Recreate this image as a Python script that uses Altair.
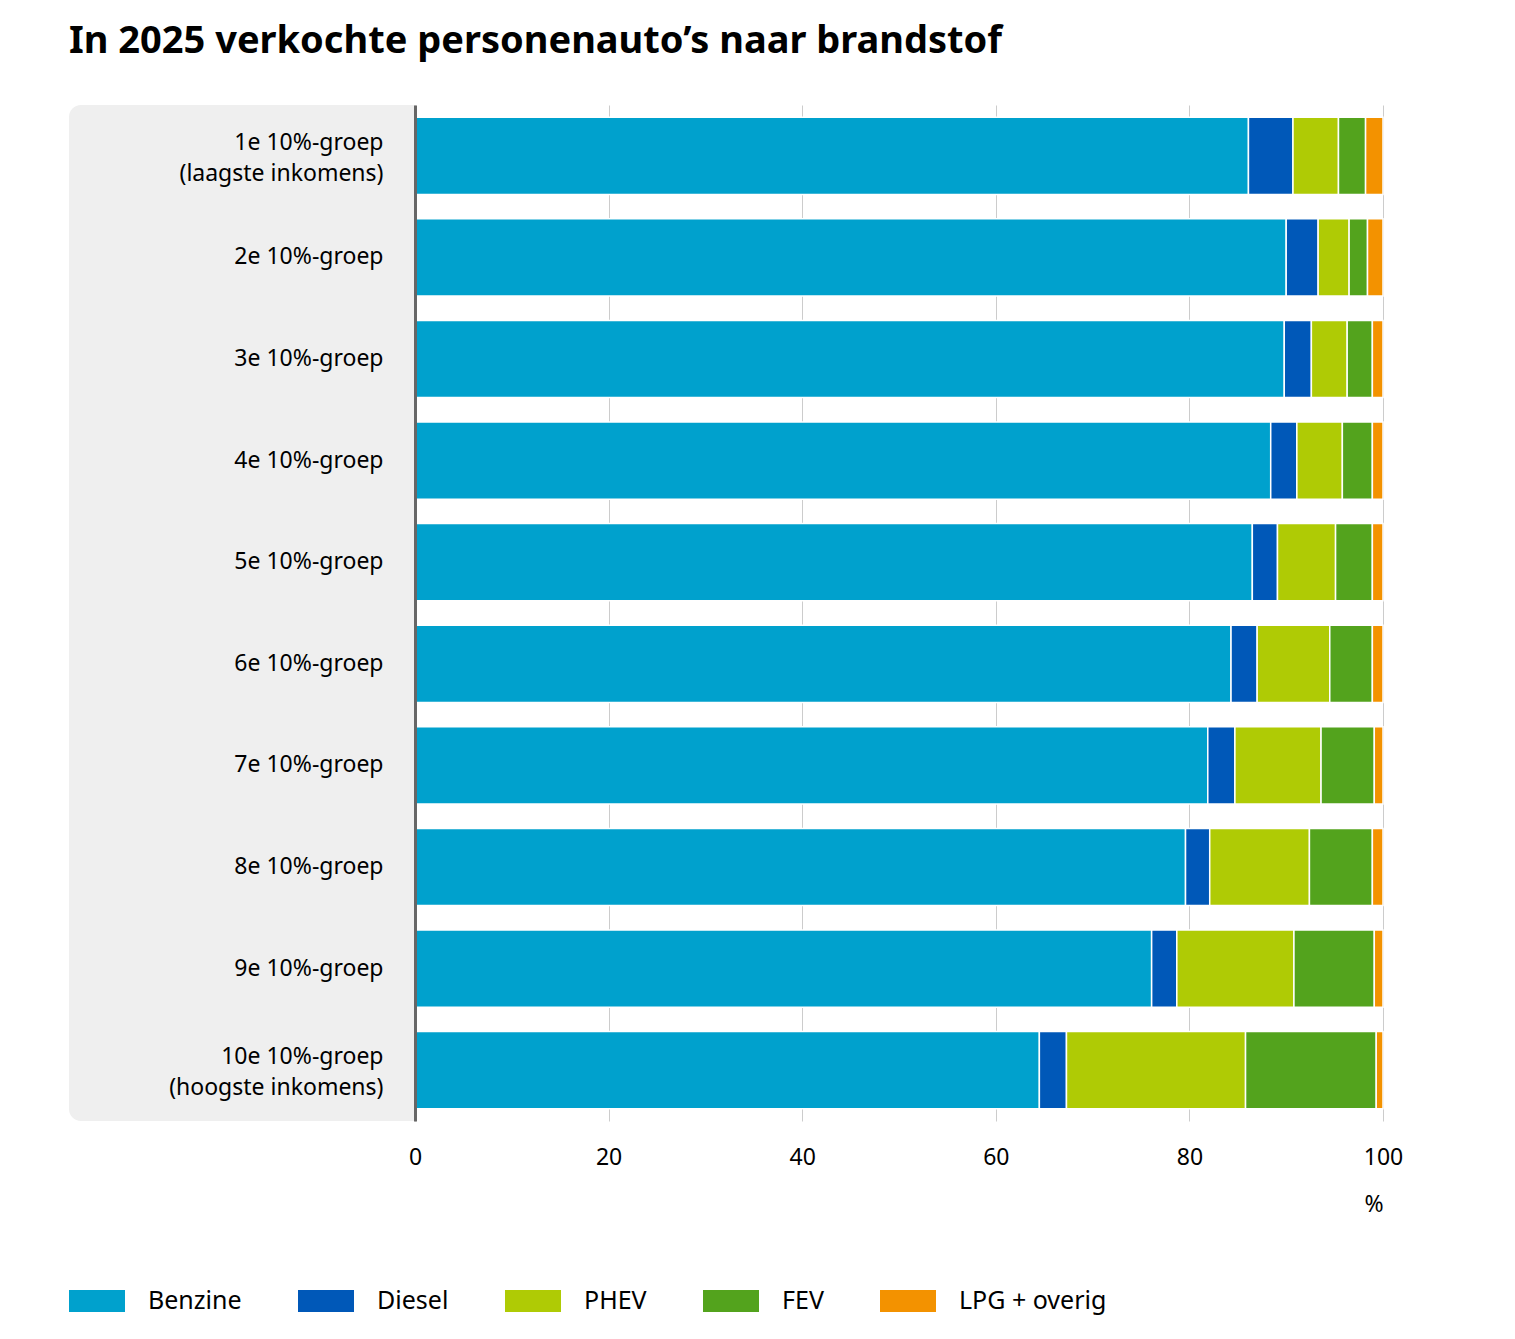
import altair as alt
import pandas as pd

groups = [
    "1e 10%-groep|(laagste inkomens)",
    "2e 10%-groep",
    "3e 10%-groep",
    "4e 10%-groep",
    "5e 10%-groep",
    "6e 10%-groep",
    "7e 10%-groep",
    "8e 10%-groep",
    "9e 10%-groep",
    "10e 10%-groep|(hoogste inkomens)",
]
fuels = ["Benzine", "Diesel", "PHEV", "FEV", "LPG + overig"]
colors = ["#00a1cd", "#0058b8", "#afcb05", "#53a31d", "#f39200"]

benzine = [86.1, 90.0, 89.8, 88.4, 86.5, 84.3, 81.9, 79.6, 76.1, 64.5]
diesel = [4.6, 3.3, 2.8, 2.7, 2.6, 2.7, 2.8, 2.5, 2.6, 2.8]
phev = [4.7, 3.2, 3.7, 4.7, 6.0, 7.5, 8.9, 10.3, 12.1, 18.5]
fev = [2.8, 1.9, 2.6, 3.1, 3.8, 4.4, 5.5, 6.5, 8.3, 13.5]
lpg = [1.8, 1.6, 1.1, 1.1, 1.1, 1.1, 0.9, 1.1, 0.9, 0.7]

series = [benzine, diesel, phev, fev, lpg]
rows = []
for fi, (fuel, vals) in enumerate(zip(fuels, series)):
    for g, v in zip(groups, vals):
        rows.append({"groep": g, "brandstof": fuel, "waarde": v, "volgorde": fi})
df = pd.DataFrame(rows)

W, H = 968, 1016
FONT = "Noto Sans"

panel = alt.Chart(pd.DataFrame({"a": [0]})).mark_rect(
    color="#efefef",
    cornerRadiusTopLeft=12,
    cornerRadiusBottomLeft=12,
).encode(
    x=alt.value(-346), x2=alt.value(0), y=alt.value(0), y2=alt.value(H)
)

bars = alt.Chart(df).mark_bar(stroke="white", strokeWidth=1.5).encode(
    x=alt.X(
        "sum(waarde):Q",
        stack="zero",
        scale=alt.Scale(domain=[0, 100], nice=False),
        axis=alt.Axis(
            values=[0, 20, 40, 60, 80, 100],
            title="%",
            titleAnchor="end",
            titleFontSize=23,
            titleFontWeight="normal",
            titleFont=FONT,
            titleColor="#000",
            titlePadding=24,
            labelFontSize=23,
            labelFont=FONT,
            labelColor="#000",
            labelPadding=25,
            labelFlush=False,
            ticks=False,
            domain=False,
            grid=True,
            gridColor="#cccccc",
            gridWidth=1,
        ),
    ),
    y=alt.Y(
        "groep:N",
        sort=groups,
        scale=alt.Scale(paddingInner=0.24, paddingOuter=0.12),
        axis=alt.Axis(
            title=None,
            labelExpr="split(datum.label, '|')",
            labelFontSize=23,
            labelFont=FONT,
            labelColor="#000",
            labelLineHeight=31,
            labelPadding=32,
            labelLimit=400,
            labelOffset={
                "condition": {"test": "indexof(datum.value, '|') >= 0", "value": -13},
                "value": 0,
            },
            ticks=False,
            domain=True,
            domainColor="#666666",
            domainWidth=3,
            grid=False,
            zindex=1,
        ),
    ),
    color=alt.Color(
        "brandstof:N",
        scale=alt.Scale(domain=fuels, range=colors),
        legend=alt.Legend(
            title=None,
            orient="none",
            legendX=-346,
            legendY=1168,
            direction="horizontal",
            symbolType="M-1,-0.393L1,-0.393L1,0.393L-1,0.393Z",
            symbolSize=3136,
            symbolStrokeWidth=0,
            labelFontSize=25,
            labelFont=FONT,
            labelColor="#000",
            labelOffset=23,
            columnPadding=56,
            labelLimit=300,
        ),
    ),
    order=alt.Order("volgorde:Q"),
)

chart = (
    alt.layer(panel, bars)
    .properties(
        width=W,
        height=H,
        padding={"left": 61, "top": 15, "right": 40, "bottom": 20},
        title=alt.TitleParams(
            "In 2025 verkochte personenauto’s naar brandstof",
            anchor="start",
            frame="bounds",
            font=FONT,
            fontSize=38,
            fontWeight="bold",
            color="#000",
            offset=44,
        ),
    )
    .configure_view(stroke=None)
)

chart.save("out.html", embed_options={"renderer": "svg", "actions": False})
